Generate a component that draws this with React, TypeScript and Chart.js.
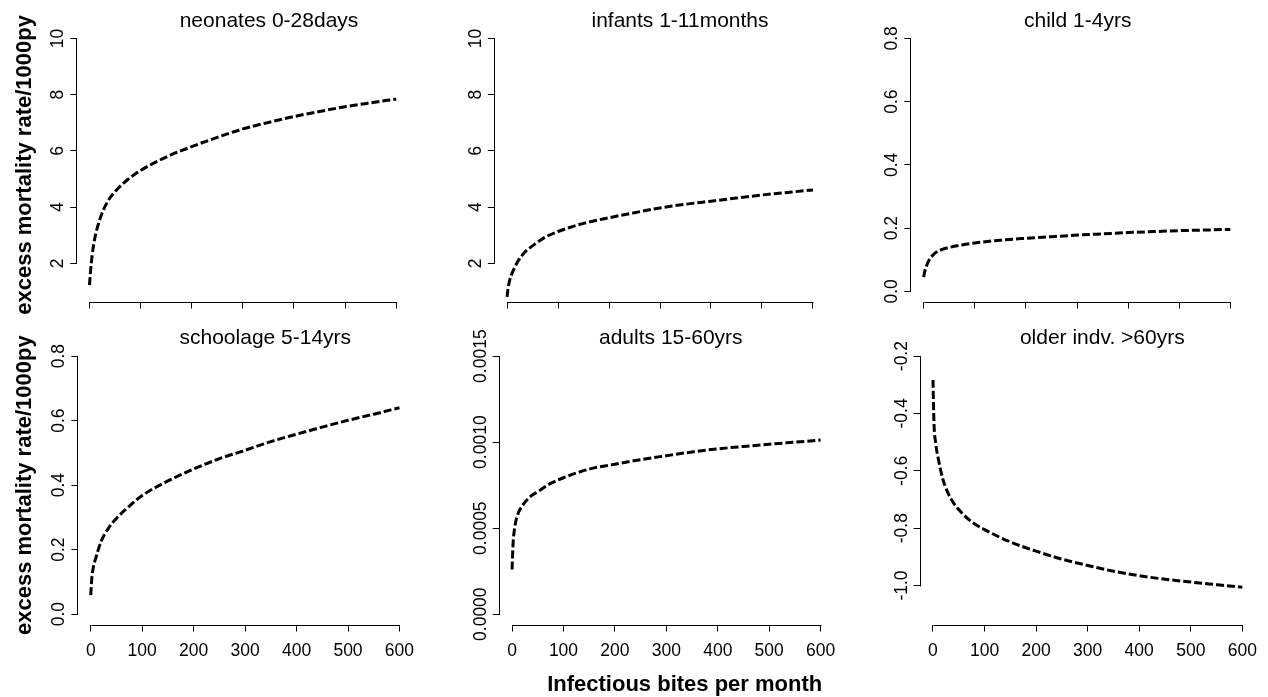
import React, { useEffect, useRef } from 'react';
import { Chart, registerables } from 'chart.js';

Chart.register(...registerables);

// ---------------- data ----------------
const biteLevels = [0, 2, 5, 10, 20, 35, 50, 75, 100, 150, 200, 250, 300, 350, 400, 450, 500, 550, 600];

const neonates = [1.22, 1.7, 2.25, 2.85, 3.55, 4.18, 4.55, 4.98, 5.3, 5.78, 6.15, 6.48, 6.78, 7.01, 7.22, 7.4, 7.57, 7.71, 7.84];
const infants = [0.8, 1.1, 1.38, 1.65, 2.03, 2.4, 2.62, 2.93, 3.13, 3.42, 3.62, 3.8, 3.97, 4.1, 4.21, 4.32, 4.43, 4.52, 4.61];
const child = [0.045, 0.062, 0.078, 0.097, 0.118, 0.132, 0.139, 0.147, 0.153, 0.162, 0.168, 0.173, 0.178, 0.182, 0.186, 0.189, 0.192, 0.194, 0.196];
const schoolage = [0.059, 0.11, 0.145, 0.175, 0.225, 0.268, 0.297, 0.335, 0.368, 0.413, 0.45, 0.482, 0.508, 0.535, 0.558, 0.58, 0.601, 0.62, 0.64];
const adults = [0.00026, 0.00041, 0.0005, 0.00057, 0.00063, 0.000682, 0.000712, 0.00076, 0.000793, 0.000843, 0.000872, 0.000898, 0.000921, 0.000943, 0.000961, 0.000975, 0.000988, 0.001, 0.001012];
const older = [-0.283, -0.435, -0.5, -0.555, -0.634, -0.698, -0.735, -0.778, -0.805, -0.848, -0.88, -0.908, -0.93, -0.95, -0.966, -0.978, -0.988, -0.997, -1.006];

const xTickValues = [0, 100, 200, 300, 400, 500, 600];
const xLimits = [0, 600];

const yTicksNeonates = [2, 4, 6, 8, 10];
const yTicksInfants = [2, 4, 6, 8, 10];
const yTicksChild = [0, 0.2, 0.4, 0.6, 0.8];
const yTicksSchool = [0, 0.2, 0.4, 0.6, 0.8];
const yTicksAdults = [0, 0.0005, 0.001, 0.0015];
const yTicksOlder = [-1.0, -0.8, -0.6, -0.4, -0.2];

const yLimNeonates = [1, 10];
const yLimInfants = [1, 10];
const yLimChild = [0, 0.8];
const yLimSchool = [0, 0.8];
const yLimAdults = [0, 0.0015];
const yLimOlder = [-1.1, -0.2];

const panelTitles = ['neonates 0-28days', 'infants 1-11months', 'child 1-4yrs', 'schoolage 5-14yrs', 'adults 15-60yrs', 'older indv. >60yrs'];
const yAxisLabel = 'excess mortality rate/1000py';
const xAxisLabel = 'Infectious bites per month';

// ---------------- layout ----------------
const W = 1268;
const H = 697;
const YW = 50;
const XH = 45;
const FONT = '"Liberation Sans", Arial, Helvetica, sans-serif';

type Box = { l: number; t: number; r: number; b: number };
type Panel = {
  title: string;
  values: number[];
  yTicks: number[];
  yLim: number[];
  decimals: number;
  box: Box;
  titleX: number;
  showX: boolean;
  showYLabel: boolean;
  showXLabel: boolean;
};

const ROW1 = { t: 28.3, b: 301.5 };
const ROW2 = { t: 345.8, b: 624.5 };

const panels: Panel[] = [
  { title: panelTitles[0], values: neonates, yTicks: yTicksNeonates, yLim: yLimNeonates, decimals: 0, box: { l: 77.2, r: 408.5, ...ROW1 }, titleX: 269, showX: false, showYLabel: true, showXLabel: false },
  { title: panelTitles[1], values: infants, yTicks: yTicksInfants, yLim: yLimInfants, decimals: 0, box: { l: 494.8, r: 825.2, ...ROW1 }, titleX: 680, showX: false, showYLabel: false, showXLabel: false },
  { title: panelTitles[2], values: child, yTicks: yTicksChild, yLim: yLimChild, decimals: 1, box: { l: 911.4, r: 1242.6, ...ROW1 }, titleX: 1077.7, showX: false, showYLabel: false, showXLabel: false },
  { title: panelTitles[3], values: schoolage, yTicks: yTicksSchool, yLim: yLimSchool, decimals: 1, box: { l: 78.4, r: 411.8, ...ROW2 }, titleX: 265.3, showX: true, showYLabel: true, showXLabel: false },
  { title: panelTitles[4], values: adults, yTicks: yTicksAdults, yLim: yLimAdults, decimals: 4, box: { l: 499.7, r: 833, ...ROW2 }, titleX: 670.8, showX: true, showYLabel: false, showXLabel: true },
  { title: panelTitles[5], values: older, yTicks: yTicksOlder, yLim: yLimOlder, decimals: 1, box: { l: 920.6, r: 1254.7, ...ROW2 }, titleX: 1102.3, showX: true, showYLabel: false, showXLabel: false },
];

const ext = (lim: number[]) => {
  const d = (lim[1] - lim[0]) * 0.04;
  return [lim[0] - d, lim[1] + d];
};

// R-style axes: axis lines only between first and last tick, rotated y labels, titles
const rAxesPlugin = {
  id: 'rAxes',
  afterDraw(chart: any, _args: any, opts: any) {
    const ctx = chart.ctx as CanvasRenderingContext2D;
    const xs = chart.scales.x;
    const ys = chart.scales.y;
    const ca = chart.chartArea;
    ctx.save();
    ctx.strokeStyle = '#000';
    ctx.lineWidth = 1;
    // x axis line
    const xt = xs.ticks;
    const xa = xs.getPixelForValue(xt[0].value);
    const xb = xs.getPixelForValue(xt[xt.length - 1].value);
    const yb = Math.round(ca.bottom) + 0.5;
    ctx.beginPath();
    ctx.moveTo(Math.round(xa) + 0.5, yb);
    ctx.lineTo(Math.round(xb) + 0.5, yb);
    ctx.stroke();
    // y axis line
    const yt = ys.ticks;
    const ya = ys.getPixelForValue(yt[0].value);
    const yc = ys.getPixelForValue(yt[yt.length - 1].value);
    const xl = Math.round(ca.left) - 0.5;
    ctx.beginPath();
    ctx.moveTo(xl, Math.round(ya) + 0.5);
    ctx.lineTo(xl, Math.round(yc) + 0.5);
    ctx.stroke();
    // y tick labels (parallel to axis, like R)
    ctx.fillStyle = '#000';
    ctx.font = `17.5px ${FONT}`;
    ctx.textAlign = 'center';
    ctx.textBaseline = 'alphabetic';
    for (const t of yt) {
      const py = ys.getPixelForValue(t.value);
      ctx.save();
      ctx.translate(ca.left - 14, py);
      ctx.rotate(-Math.PI / 2);
      ctx.fillText(Number(t.value).toFixed(opts.decimals), 0, 0);
      ctx.restore();
    }
    // panel title
    ctx.font = `21px ${FONT}`;
    ctx.fillText(opts.title, opts.titleX, ca.top - 1.5);
    // y axis label
    if (opts.showYLabel) {
      ctx.font = `bold 22px ${FONT}`;
      ctx.save();
      ctx.translate(31, (ca.top + ca.bottom) / 2);
      ctx.rotate(-Math.PI / 2);
      ctx.fillText(yAxisLabel, 0, 0);
      ctx.restore();
    }
    if (opts.showXLabel) {
      ctx.font = `bold 22px ${FONT}`;
      ctx.fillText(xAxisLabel, 684.7, 691);
    }
    ctx.restore();
  },
};

function PanelChart({ p }: { p: Panel }) {
  const ref = useRef<HTMLCanvasElement | null>(null);
  useEffect(() => {
    if (!ref.current) return;
    const yr = ext(p.yLim);
    const xr = ext(xLimits);
    const chart = new Chart(ref.current, {
      type: 'line',
      data: {
        datasets: [
          {
            data: biteLevels.map((x, i) => ({ x, y: p.values[i] })),
            borderColor: '#000',
            borderWidth: 3,
            borderDash: [8, 3],
            pointRadius: 0,
            fill: false,
            cubicInterpolationMode: 'monotone',
          },
        ],
      },
      options: {
        animation: false,
        responsive: false,
        events: [],
        layout: {
          padding: { left: p.box.l - YW, top: p.box.t, right: W - p.box.r, bottom: H - p.box.b - XH },
        },
        plugins: {
          legend: { display: false },
          tooltip: { enabled: false },
          title: { display: false },
          rAxes: { title: p.title, titleX: p.titleX, decimals: p.decimals, showYLabel: p.showYLabel, showXLabel: p.showXLabel },
        } as any,
        scales: {
          x: {
            type: 'linear',
            min: xr[0],
            max: xr[1],
            afterBuildTicks: (s: any) => {
              s.ticks = xTickValues.map((v) => ({ value: v }));
            },
            afterFit: (s: any) => {
              s.height = XH;
            },
            border: { display: false },
            grid: { drawOnChartArea: false, drawTicks: true, tickLength: 7, color: '#000', lineWidth: 1 },
            ticks: {
              display: p.showX,
              color: '#000',
              font: { family: FONT, size: 17.5 },
              padding: 9,
              maxRotation: 0,
              autoSkip: false,
              callback: (v: any) => String(v),
            },
          },
          y: {
            type: 'linear',
            min: yr[0],
            max: yr[1],
            afterBuildTicks: (s: any) => {
              s.ticks = p.yTicks.map((v) => ({ value: v }));
            },
            afterFit: (s: any) => {
              s.width = YW;
            },
            border: { display: false },
            grid: { drawOnChartArea: false, drawTicks: true, tickLength: 7, color: '#000', lineWidth: 1 },
            ticks: { display: false },
          },
        },
      } as any,
      plugins: [rAxesPlugin as any],
    });
    return () => chart.destroy();
  }, [p]);
  return (
    <canvas
      ref={ref}
      width={W}
      height={H}
      style={{ position: 'absolute', left: 0, top: 0, width: W, height: H }}
    />
  );
}

export default function App() {
  useEffect(() => {
    document.body.style.margin = '0';
  }, []);
  return (
    <div style={{ position: 'absolute', left: 0, top: 0, width: W, height: H, background: '#fff' }}>
      {panels.map((p, i) => (
        <PanelChart key={i} p={p} />
      ))}
    </div>
  );
}
